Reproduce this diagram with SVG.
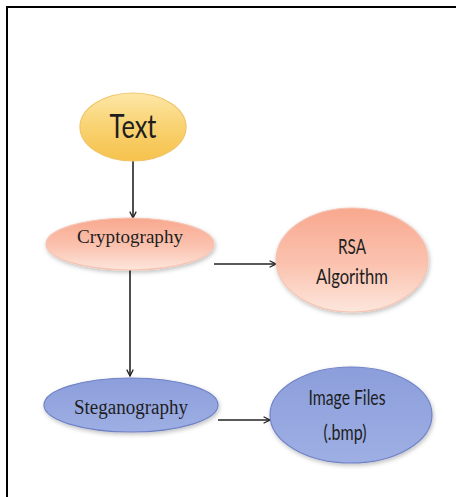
<svg xmlns="http://www.w3.org/2000/svg" width="456" height="497" viewBox="0 0 456 497">
<defs>
<linearGradient id="gy" x1="0" y1="0" x2="0" y2="1">
<stop offset="0" stop-color="#fde7a6"/><stop offset="0.5" stop-color="#f9d271"/><stop offset="1" stop-color="#f6c24c"/>
</linearGradient>
<linearGradient id="gs" x1="0" y1="0" x2="0" y2="1">
<stop offset="0" stop-color="#f8a88e"/><stop offset="0.55" stop-color="#fbc3b0"/><stop offset="1" stop-color="#fde6dc"/>
</linearGradient>
<linearGradient id="gb" x1="0" y1="0" x2="0" y2="1">
<stop offset="0" stop-color="#8c9edb"/><stop offset="1" stop-color="#9eafe4"/>
</linearGradient>
<filter id="sh" x="-20%" y="-20%" width="140%" height="150%">
<feDropShadow dx="1" dy="2" stdDeviation="2" flood-color="#000" flood-opacity="0.25"/>
</filter>
<marker id="ah" viewBox="0 0 10 10" refX="9" refY="5" markerWidth="8" markerHeight="8" markerUnits="userSpaceOnUse" orient="auto">
<path d="M1,1 L9,5 L1,9" fill="none" stroke="#222" stroke-width="1.6"/>
</marker>
<style>
.e-y{fill:url(#gy);stroke:#f0c468;stroke-width:1.2}
.e-s{fill:url(#gs);stroke:#f6c3b2;stroke-width:1.2;filter:url(#sh)}
.e-b{fill:url(#gb);stroke:#6f82c6;stroke-width:1.2;filter:url(#sh)}
.cal{font-family:Lato,"Open Sans","Liberation Sans",sans-serif;fill:#1e1e1e;text-anchor:middle}
.tim{font-family:"Liberation Serif","Times New Roman",serif;fill:#1e1e1e;text-anchor:middle}
.ln{stroke:#222;stroke-width:1.6;fill:none;marker-end:url(#ah)}
</style>
</defs>
<rect width="456" height="497" fill="#fff"/>
<path d="M7,497 V7 H456" fill="none" stroke="#000" stroke-width="2"/>
<g id="connectors">
<line class="ln" x1="133" y1="161" x2="133" y2="218"/>
<line class="ln" x1="214" y1="264" x2="276" y2="264"/>
<line class="ln" x1="130" y1="270" x2="130" y2="376"/>
<line class="ln" x1="218" y1="420" x2="270" y2="420"/>
</g>
<g id="text-node">
<ellipse class="e-y" cx="133" cy="127" rx="53" ry="34"/>
<text class="cal" x="133" y="138" font-size="32" textLength="47" lengthAdjust="spacingAndGlyphs">Text</text>
</g>
<g id="cryptography">
<ellipse class="e-s" cx="130" cy="244" rx="84" ry="26"/>
<text class="tim" x="130" y="243" font-size="19" textLength="106" lengthAdjust="spacingAndGlyphs">Cryptography</text>
</g>
<g id="rsa">
<ellipse class="e-s" cx="352" cy="260" rx="76" ry="52"/>
<text class="cal" x="352" y="254" font-size="21" textLength="28" lengthAdjust="spacingAndGlyphs">RSA</text>
<text class="cal" x="352" y="284" font-size="21" textLength="72" lengthAdjust="spacingAndGlyphs">Algorithm</text>
</g>
<g id="steganography">
<ellipse class="e-b" cx="131" cy="405" rx="87" ry="27"/>
<text class="tim" x="131" y="414" font-size="20" textLength="114" lengthAdjust="spacingAndGlyphs">Steganography</text>
</g>
<g id="image-files">
<ellipse class="e-b" cx="351" cy="415" rx="81" ry="48"/>
<text class="cal" x="347" y="405" font-size="21" textLength="77" lengthAdjust="spacingAndGlyphs">Image Files</text>
<text class="cal" x="345" y="440" font-size="21" textLength="43" lengthAdjust="spacingAndGlyphs">(.bmp)</text>
</g>
</svg>
